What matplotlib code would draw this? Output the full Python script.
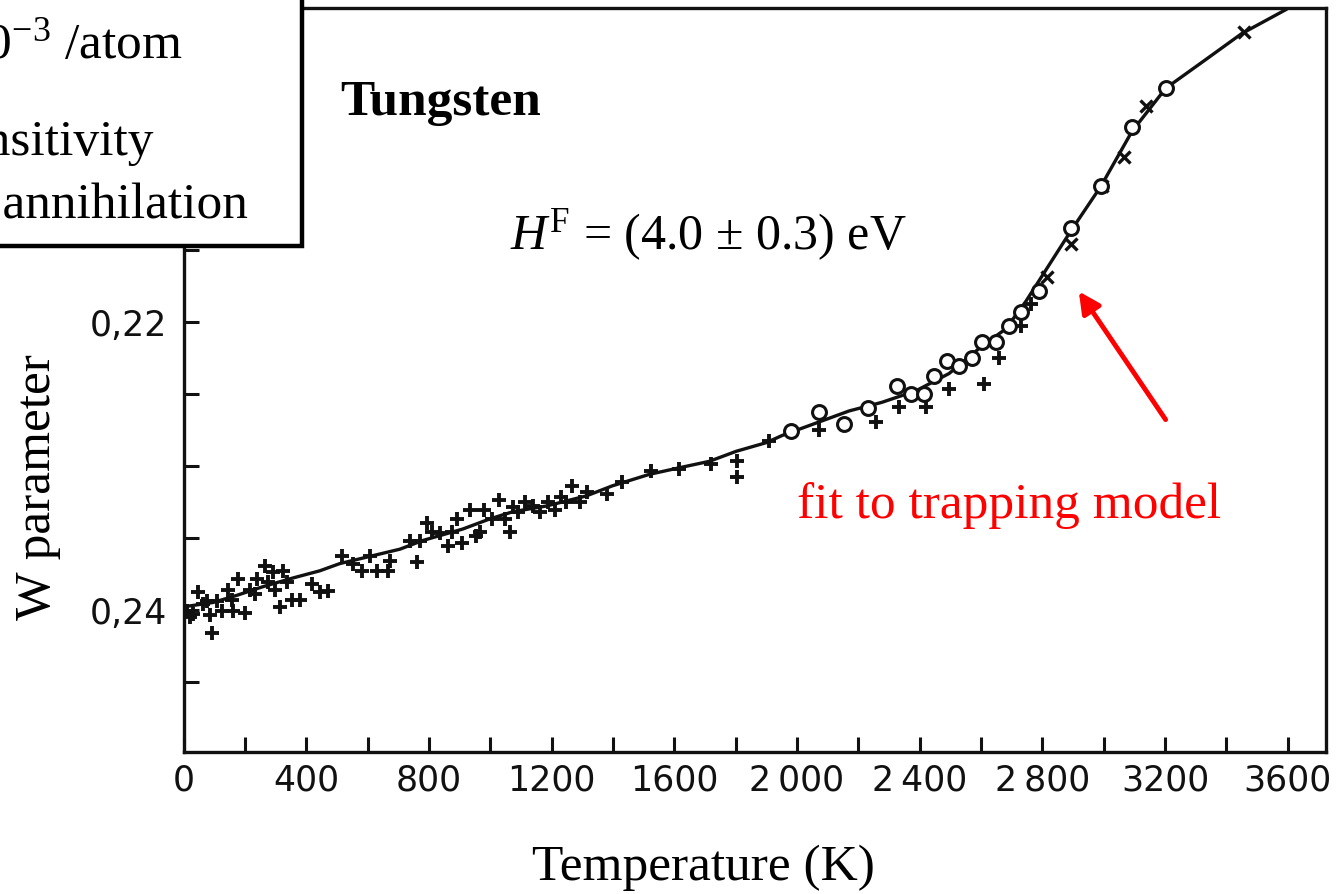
import matplotlib
matplotlib.use("Agg")
import matplotlib.pyplot as plt
from matplotlib import font_manager
from matplotlib.patches import Rectangle

# ---- data -------------------------------------------------------------
# trapping-model fit curve
fit_T = [0, 96, 174, 259, 356, 444, 509, 607, 705, 779, 910, 998, 1073, 1183,
         1313, 1398, 1519, 1626, 1714, 1802, 1900, 1952, 2170, 2277, 2388,
         2496, 2603, 2681, 2746, 2893, 2991, 3092, 3202, 3333, 3450, 3597]
fit_W = [0.2398, 0.2395, 0.2390, 0.2384, 0.2378, 0.2373, 0.2368, 0.2363,
         0.2358, 0.2352, 0.2344, 0.2337, 0.2332, 0.2328, 0.2321, 0.2314,
         0.2306, 0.2301, 0.2297, 0.2290, 0.2284, 0.2279, 0.2262, 0.2256,
         0.2248, 0.2236, 0.2217, 0.2205, 0.2186, 0.2137, 0.2106, 0.2068,
         0.2038, 0.2018, 0.2000, 0.1983]

# measured W parameter, series 1 (+)
plus_T = [11, 21, 31, 47, 63, 76, 86, 92, 109, 125,
          145, 158, 161, 177, 200, 216, 232, 239, 265, 275,
          291, 298, 314, 324, 337, 353, 379, 418, 444, 470,
          516, 551, 581, 607, 630, 665, 672, 737, 760, 770,
          793, 809, 835, 861, 874, 890, 907, 933, 955, 965,
          981, 1004, 1030, 1047, 1063, 1073, 1089, 1112, 1138, 1161,
          1187, 1210, 1232, 1248, 1268, 1291, 1314, 1379, 1428, 1525,
          1616, 1720, 1805, 1805, 1909, 2072, 2258, 2333, 2421, 2496,
          2610, 2658, 2730, 2763]
plus_W = [0.2401, 0.2405, 0.2403, 0.2388, 0.2396, 0.2394, 0.2404, 0.2416, 0.2394, 0.2401,
          0.2386, 0.2393, 0.2401, 0.2379, 0.2402, 0.2386, 0.2389, 0.2379, 0.2370, 0.2381,
          0.2374, 0.2386, 0.2398, 0.2373, 0.2381, 0.2393, 0.2393, 0.2382, 0.2388, 0.2387,
          0.2363, 0.2368, 0.2373, 0.2363, 0.2373, 0.2373, 0.2366, 0.2352, 0.2367, 0.2352,
          0.2340, 0.2346, 0.2347, 0.2356, 0.2346, 0.2337, 0.2354, 0.2331, 0.2349, 0.2346,
          0.2331, 0.2337, 0.2324, 0.2337, 0.2346, 0.2329, 0.2332, 0.2325, 0.2328, 0.2332,
          0.2325, 0.2331, 0.2322, 0.2325, 0.2314, 0.2325, 0.2318, 0.2320, 0.2311, 0.2304,
          0.2302, 0.2299, 0.2297, 0.2308, 0.2283, 0.2275, 0.2270, 0.2259, 0.2259, 0.2247,
          0.2243, 0.2225, 0.2203, 0.2188]

# measured W parameter, series 2 (open circles)
circ_T = [1981, 2072, 2154, 2232, 2326, 2372, 2414, 2447, 2489, 2528,
          2571, 2603, 2649, 2691, 2730, 2789, 2893, 2991, 3092, 3202]
circ_W = [0.2276, 0.2263, 0.2271, 0.2260, 0.2245, 0.2250, 0.2250, 0.2238, 0.2227, 0.2231,
          0.2225, 0.2214, 0.2214, 0.2203, 0.2193, 0.2179, 0.2135, 0.2106, 0.2065, 0.2038]

# measured W parameter, series 3 (x) at high temperature
cross_T = [2816, 2893, 2994, 3066, 3138, 3457]
cross_W = [0.2169, 0.2146, 0.2106, 0.2086, 0.2050, 0.1999]

x_ticks = list(range(0, 3601, 200))
x_labels = {0: "0", 400: "400", 800: "800", 1200: "1200", 1600: "1600",
            2000: "2\u2009000", 2400: "2\u2009400", 2800: "2\u2009800",
            3200: "3200", 3600: "3600"}
y_ticks = [0.200, 0.205, 0.210, 0.215, 0.220, 0.225, 0.230, 0.235, 0.240, 0.245]
y_labels = {0.220: "0,22", 0.240: "0,24"}

# ---- fonts ------------------------------------------------------------
have_narrow = any(f.name == "Liberation Sans Narrow" for f in font_manager.fontManager.ttflist)
tick_family = ["Liberation Sans Narrow", "DejaVu Sans"] if have_narrow else ["DejaVu Sans"]
tick_size = 30 if have_narrow else 25

plt.rcParams["font.family"] = ["Liberation Serif", "DejaVu Serif"]
plt.rcParams["mathtext.fontset"] = "custom"
plt.rcParams["mathtext.rm"] = "Liberation Serif"
plt.rcParams["mathtext.it"] = "Liberation Serif:italic"
plt.rcParams["mathtext.bf"] = "Liberation Serif:bold"

W, H = 1342, 895
fig = plt.figure(figsize=(W / 100, H / 100), dpi=100)
ax = fig.add_axes([183.6 / W, 1 - 752.7 / H, (1326 - 183.6) / W, (752.7 - 9) / H])

ink = "#111111"
ax.plot(fit_T, fit_W, color=ink, lw=2.4, zorder=2, solid_capstyle="round",
        solid_joinstyle="round")
ax.plot(plus_T, plus_W, ls="none", marker="+", ms=10, mew=2.8, color=ink, zorder=3)
ax.plot(circ_T, circ_W, ls="none", marker="o", ms=10, mew=2.2,
        markerfacecolor="white", markeredgecolor=ink, zorder=4)
ax.plot(cross_T, cross_W, ls="none", marker="x", ms=8, mew=2.4, color=ink, zorder=3)

ax.set_xlim(0, 3725)
ax.set_ylim(0.24986, 0.19822)

ax.set_xticks(x_ticks)
ax.set_xticklabels([x_labels.get(t, "") for t in x_ticks])
ax.set_yticks(y_ticks)
ax.set_yticklabels([y_labels.get(round(t, 3), "") for t in y_ticks])
ax.tick_params(direction="in", length=11, width=2.2, color=ink,
               labelsize=tick_size, labelcolor=ink)
ax.tick_params(axis="x", pad=8)
ax.tick_params(axis="y", pad=12)
for lab in ax.get_xticklabels() + ax.get_yticklabels():
    lab.set_family(tick_family)
for sp in ax.spines.values():
    sp.set_linewidth(2.4)
    sp.set_color(ink)

# axis titles
fig.text(703 / W, 1 - 880 / H, "Temperature (K)", fontsize=37, ha="center",
         va="baseline")
fig.text(38 / W, 1 - 487 / H, "W parameter", fontsize=37, rotation=90,
         ha="center", va="center")

# annotations
fig.text(340 / W, 1 - 115 / H, "Tungsten", fontsize=37, fontweight="bold",
         ha="left", va="baseline")
fig.text(510 / W, 1 - 249 / H, r"$H^{\mathrm{F}}$ = (4.0 ± 0.3) eV", fontsize=36,
         ha="left", va="baseline")
ax.text(2691, 0.23356, "fit to trapping model", color="red", fontsize=37,
        ha="center", va="baseline")
ax.annotate("", xy=(2919, 0.2179), xytext=(3202, 0.2268),
            arrowprops=dict(arrowstyle="-|>", color="red", lw=3.5,
                            mutation_scale=32, shrinkA=0, shrinkB=0))

# info box in the upper left corner, partly running off the page
box = Rectangle((-0.05, 1 - 247 / H), 0.05 + 302 / W, 247 / H + 0.05,
                transform=fig.transFigure, facecolor="white", edgecolor="black",
                lw=3.2, zorder=10)
fig.patches.append(box)
fig.text(182 / W, 1 - 58 / H, r"10$^{-3}$ /atom", fontsize=37, ha="right",
         va="baseline", zorder=11)
fig.text(154 / W, 1 - 155 / H, "sensitivity", fontsize=37, ha="right",
         va="baseline", zorder=11)
fig.text(248 / W, 1 - 218 / H, "positron annihilation", fontsize=37, ha="right",
         va="baseline", zorder=11)

fig.savefig("out.png", dpi=100)
